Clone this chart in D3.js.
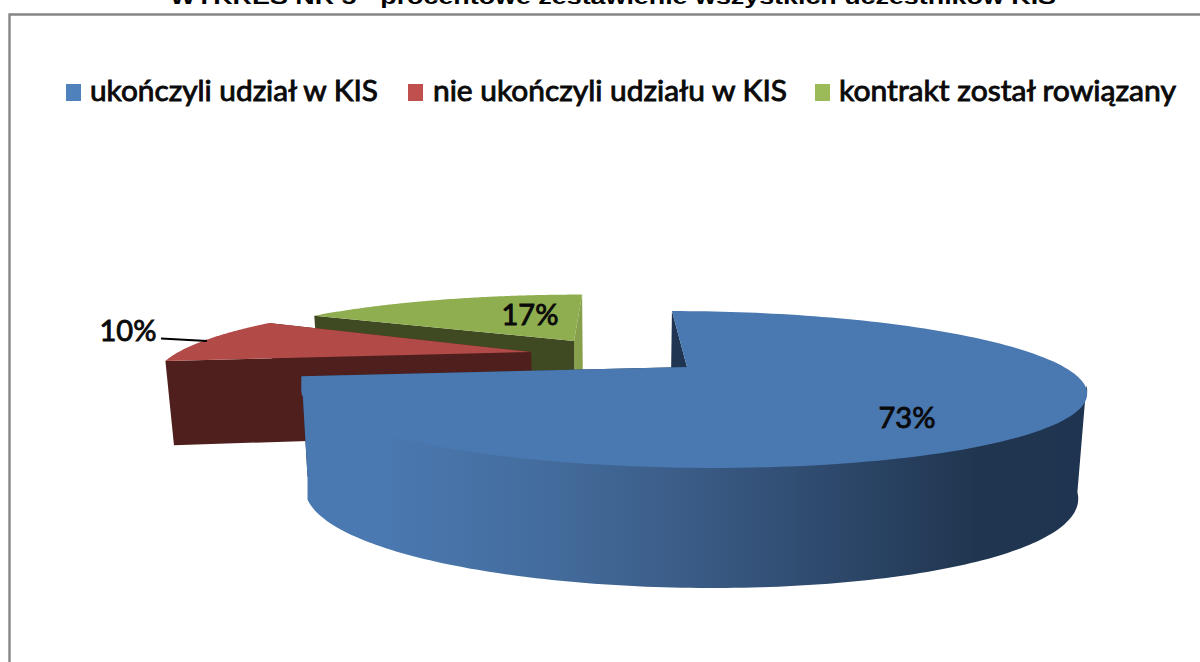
<!DOCTYPE html>
<html><head><meta charset="utf-8">
<script src="https://cdn.jsdelivr.net/npm/d3@7/dist/d3.min.js"></script>
<style>html,body{margin:0;padding:0;background:#fff;overflow:hidden}svg{display:block}</style>
</head><body><svg id="c" width="1200" height="662"></svg>
<script>
const titleText = "WYKRES NR 5 - procentowe zestawienie wszystkich uczestników KIS";
const categories = ["ukończyli udział w KIS", "nie ukończyli udziału w KIS", "kontrakt został rowiązany"];
const values = [73, 10, 17];
const labels = ["73%", "10%", "17%"];

// layout / style (not data)
const topColors = ["#4a78b0", "#b24b47", "#8fae4f"];
const legendColors = ["#4f81bd", "#c0504d", "#9bbb59"];
const startWall = ["#1f3552", "#4f1f1e", "#404a22"];
const endWall = ["#1f3552", "#4f1f1e", "#87a04b"];
const apexes = [[687, 367], [531, 352], [574, 341]];
const scalesX = [1, 0.935, 0.91], scalesY = [1, 0.95, 0.83], scalesH = [1, 0.84, 1];
const legendX = [66, 408, 815], legendTextX = [90, 433, 839], legendW = [288, 354, 337];
const labelPos = [[907, 416], [128, 329], [530, 313]];

const svg = d3.select("#c");
const k = 0.287, A = 72, R = 377, vpX = 616, conv = 0.212, inset = 0.981;
const rad = Math.PI / 180;
const pie = d3.pie().sort(null).value(d => d);
const arcs = pie(values);

function topPt(i, a) {
  const u = Math.sin(a), v = Math.cos(a), s = 1 / (1 + k * v);
  const h = conv * (vpX - apexes[i][0]) * (1 + k);
  return [apexes[i][0] + scalesX[i] * (R * u + h * v) * s, apexes[i][1] - scalesY[i] * A * v * s];
}
function wallH(i, v) { return scalesH[i] * (97.5 - 22.5 * v); }
function botPt(i, a) {
  const p = topPt(i, a);
  return [vpX + (p[0] - vpX) * inset, p[1] + wallH(i, Math.cos(a))];
}
function apexBot(i) {
  return [vpX + (apexes[i][0] - vpX) * inset, apexes[i][1] + wallH(i, 0)];
}
const line = d3.line();
function rim(i, a0, a1, f) {
  return d3.range(0, 161).map(t => f(i, a0 + (a1 - a0) * t / 160));
}

const defs = svg.append("defs");
const grad = defs.append("linearGradient").attr("id", "wallGrad").attr("gradientUnits", "userSpaceOnUse")
  .attr("x1", 305).attr("x2", 1085).attr("y1", 0).attr("y2", 0);
[[0, "#4a78b0"], [0.1, "#4a78b0"], [0.3, "#446d9e"], [0.5, "#3a5b85"], [0.72, "#2a4465"], [0.86, "#203650"], [1, "#1f3450"]]
  .forEach(s => grad.append("stop").attr("offset", s[0]).attr("stop-color", s[1]));

// frame
svg.append("path").attr("d", "M9.5,662V14.5H1200").attr("fill", "none").attr("stroke", "#868686").attr("stroke-width", 2.4);

// title
svg.append("text").attr("x", 170).attr("y", 4)
  .attr("font-family", "'Liberation Sans',Arial,sans-serif").attr("font-weight", "bold").attr("font-size", 20)
  .attr("textLength", 886).attr("lengthAdjust", "spacingAndGlyphs")
  .attr("fill", "#000").text(titleText);

// slices, back to front
[2, 1, 0].forEach(i => {
  const d = arcs[i], g = svg.append("g").attr("class", "slice");
  const ap = apexes[i], apB = apexBot(i);
  g.append("path").attr("fill", endWall[i]).attr("d", line([topPt(i, d.endAngle), ap, apB, botPt(i, d.endAngle)]) + "Z");
  g.append("path").attr("fill", startWall[i]).attr("d", line([topPt(i, d.startAngle), ap, apB, botPt(i, d.startAngle)]) + "Z");
  const w0 = Math.max(d.startAngle, 106 * rad), w1 = Math.min(d.endAngle, 270 * rad);
  const hasWall = d.startAngle < 106 * rad && w1 > w0;
  let faceRim = rim(i, d.startAngle, d.endAngle, topPt);
  if (hasWall) {
    const minTop = topPt(i, d.endAngle)[0], minBot = botPt(i, d.endAngle)[0];
    const upper = rim(i, w0, w1, topPt).map(p => [Math.max(p[0], minTop), p[1] - 3]);
    const lower = rim(i, w0, w1, botPt).map(p => [Math.max(p[0], minBot), p[1]]);
    g.append("path").attr("fill", "url(#wallGrad)").attr("d", line(upper.concat(lower.reverse())) + "Z");
    faceRim = faceRim.map(p => [Math.max(p[0], minTop), p[1]]);
  }
  g.append("path").attr("fill", topColors[i]).attr("d", line([ap].concat(faceRim)) + "Z");
});

// percent labels
const font = "Lato,Carlito,sans-serif";
labels.forEach((t, i) => {
  svg.append("text").attr("x", labelPos[i][0]).attr("y", labelPos[i][1]).attr("text-anchor", "middle")
    .attr("dominant-baseline", "central").attr("font-family", font).attr("font-size", 29)
    .attr("stroke", "#0a0a0a").attr("stroke-width", 0.9)
    .attr("fill", "#0a0a0a").text(t);
});
svg.append("path").attr("d", "M161,338.5L207,341").attr("stroke", "#000").attr("stroke-width", 2).attr("fill", "none");

// legend
categories.forEach((c, i) => {
  svg.append("rect").attr("x", legendX[i]).attr("y", 84).attr("width", 15).attr("height", 17).attr("fill", legendColors[i]);
  svg.append("text").attr("x", legendTextX[i]).attr("y", 101).attr("font-family", font)
    .attr("font-size", 29).attr("stroke", "#0a0a0a").attr("stroke-width", 0.9)
    .attr("fill", "#0a0a0a").attr("textLength", legendW[i]).attr("lengthAdjust", "spacingAndGlyphs").text(c);
});
</script></body></html>
